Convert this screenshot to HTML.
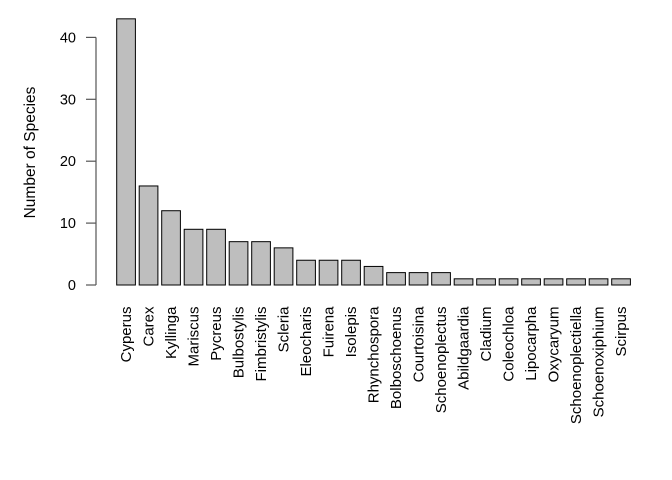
<!DOCTYPE html>
<html><head><meta charset="utf-8"><style>
html,body{margin:0;padding:0;background:#fff;}
svg{display:block;font-family:"Liberation Sans",Arial,sans-serif;}
</style></head><body>
<svg id="chart" width="672" height="480">
<g id="axis"></g>
<g id="bars"></g>
<g id="xlabels"></g>
<text x="35" y="152.5" transform="rotate(-90 35 152.5)" text-anchor="middle" font-size="15.5" fill="#000">Number of Species</text>
</svg>
<script>
const genera = ["Cyperus","Carex","Kyllinga","Mariscus","Pycreus","Bulbostylis","Fimbristylis","Scleria","Eleocharis","Fuirena","Isolepis","Rhynchospora","Bolboschoenus","Courtoisina","Schoenoplectus","Abildgaardia","Cladium","Coleochloa","Lipocarpha","Oxycaryum","Schoenoplectiella","Schoenoxiphium","Scirpus"];
const counts = [43,16,12,9,9,7,7,6,4,4,4,3,2,2,2,1,1,1,1,1,1,1,1];
const yTicks = [0,10,20,30,40];

const NS = "http://www.w3.org/2000/svg";
const y0 = 285, pxPerUnit = 6.19;
const yScale = v => y0 - v * pxPerUnit;
const x0 = 116.7, pitch = 22.5, bw = 18.7;
const xScale = i => x0 + i * pitch;

const axis = document.getElementById('axis');
const al = document.createElementNS(NS,'line');


al.setAttribute('x1',96);al.setAttribute('x2',96);
al.setAttribute('y1',yScale(yTicks[0]));al.setAttribute('y2',yScale(yTicks[yTicks.length-1]));
al.setAttribute('stroke','#555');al.setAttribute('stroke-width','1.2');
axis.appendChild(al);
yTicks.forEach(t=>{
  const l=document.createElementNS(NS,'line');
  
  
  l.setAttribute('x1',86);l.setAttribute('x2',96);
  l.setAttribute('y1',yScale(t));l.setAttribute('y2',yScale(t));
  l.setAttribute('stroke','#555');l.setAttribute('stroke-width','1.2');
  axis.appendChild(l);
  const tx=document.createElementNS(NS,'text');
  
  
  tx.setAttribute('x',76);tx.setAttribute('y',yScale(t)+5);
  tx.setAttribute('text-anchor','end');tx.setAttribute('font-size','14.5');
  tx.textContent=t;
  axis.appendChild(tx);
});

const bars=document.getElementById('bars'), xl=document.getElementById('xlabels');
counts.forEach((v,i)=>{
  const r=document.createElementNS(NS,'rect');
  
  
  r.setAttribute('x',xScale(i));r.setAttribute('width',bw);
  r.setAttribute('y',yScale(v));r.setAttribute('height',y0-yScale(v));
  r.setAttribute('fill','#bebebe');r.setAttribute('stroke','#000');r.setAttribute('stroke-width','1');
  bars.appendChild(r);
  const cx=xScale(i)+bw/2, ty=306.5;
  const t=document.createElementNS(NS,'text');
  
  
  t.setAttribute('x',cx+5);t.setAttribute('y',ty);
  t.setAttribute('transform','rotate(-90 '+(cx+5)+' '+ty+')');
  t.setAttribute('text-anchor','end');t.setAttribute('font-size','15');
  t.textContent=genera[i];
  xl.appendChild(t);
});
</script>
</body></html>
